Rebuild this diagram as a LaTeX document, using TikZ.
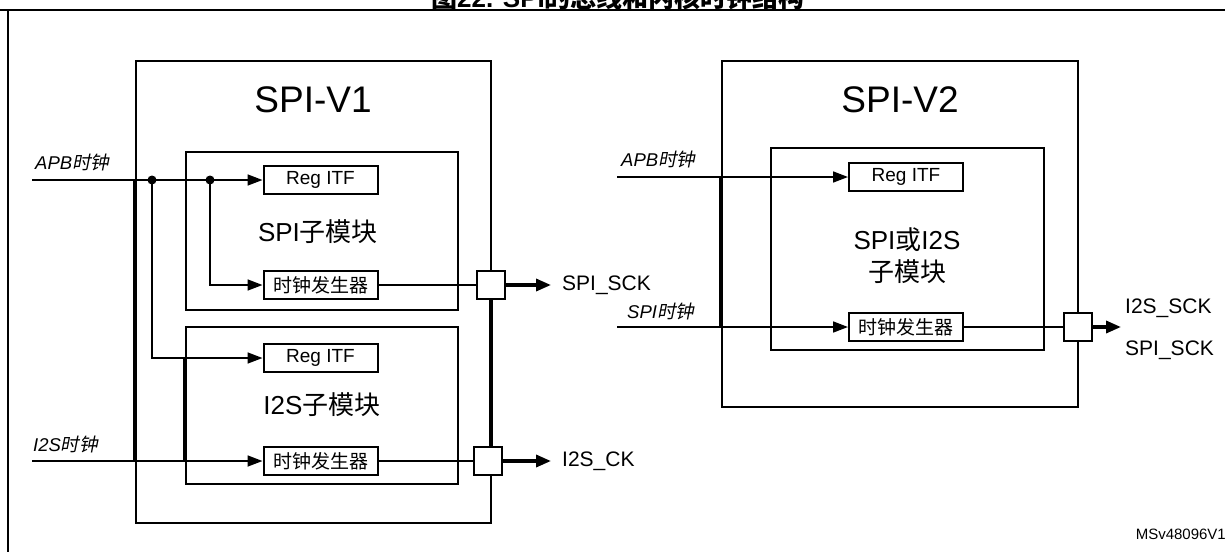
\documentclass[tikz,border=0pt]{standalone}
\usepackage{fontspec}
\setmainfont{Liberation Sans}
\newfontfamily\cjk{Noto Sans CJK SC}
\newfontfamily\cjkit[FakeSlant=0.2]{Noto Sans CJK SC}
\usetikzlibrary{arrows.meta}
\tikzset{
 box/.style={draw, line width=1.8pt, inner sep=0pt},
 blk/.style={draw, line width=2pt, fill=white, inner sep=0pt, minimum width=114pt, minimum height=28pt, font=\fontsize{19}{20}\selectfont},
 sq/.style={draw, line width=2pt, fill=white, minimum size=28pt, inner sep=0pt},
 wire/.style={line width=1.7pt},
 arr/.style={line width=1.7pt, -{Triangle[length=15pt,width=11pt]}},
 bus/.style={line width=3.4pt},
 outarr/.style={line width=3.4pt, -{Triangle[length=15pt,width=12pt]}},
 dot/.style={circle, fill=black, inner sep=0pt, minimum size=9pt},
 big/.style={font=\fontsize{37}{40}\selectfont, inner sep=0pt},
 mid/.style={font=\fontsize{26}{32}\selectfont, inner sep=0pt},
 sig/.style={font=\fontsize{21}{24}\selectfont, inner sep=0pt, anchor=west},
 lab/.style={font=\fontsize{18.5}{20}\selectfont\itshape, inner sep=0pt, anchor=base west},
}
\begin{document}
\begin{tikzpicture}[x=1pt,y=-1pt]
\useasboundingbox (0,0) rectangle (1225,552);
% frame and title
\draw[line width=2.4pt] (0,10) -- (1225,10);
\draw[line width=1.8pt] (8,10) -- (8,552);
\node[font=\fontsize{26}{26}\selectfont\bfseries, anchor=base, inner sep=0pt] (title) at (618,7) {{\cjk 图}22. SPI{\cjk 的总线和内核时钟结构}};
\node[font=\fontsize{15}{16}\selectfont, anchor=east, inner sep=0pt] (code) at (1226,534) {MSv48096V1};

% ---------------- SPI-V1 ----------------
\node[box, minimum width=355pt, minimum height=462pt] (v1) at (313.5,292) {};
\node[big] (t1) at (313,100) {SPI-V1};
\node[box, minimum width=272pt, minimum height=158pt] (spisub) at (322,231) {};
\node[box, minimum width=272pt, minimum height=157pt] (i2ssub) at (322,405.5) {};
\node[mid] (t2) at (318,232) {SPI{\cjk 子模块}};
\node[mid] (t3) at (322,405) {I2S{\cjk 子模块}};
\node[blk] (reg1) at (320.5,180) {Reg ITF};
\node[blk] (gen1) at (320.5,285) {\cjk 时钟发生器};
\node[blk] (reg2) at (320.5,358) {Reg ITF};
\node[blk] (gen2) at (320.5,461) {\cjk 时钟发生器};
\node[sq] (sq1) at (491,285) {};
\node[sq] (sq2) at (488,461) {};

\node[lab] (apbl) at (35,169) {APB{\cjkit 时钟}};
\node[lab] (i2sl) at (33,451) {I2S{\cjkit 时钟}};
\coordinate (apbin) at (32,180);
\coordinate (i2sin) at (32,461);
\coordinate (d1c) at (152,180);
\coordinate (d2c) at (210,180);

\draw[arr] (apbin) -- (reg1.west);
\draw[arr] (d2c) |- (gen1.west);
\draw[arr] (d1c) |- (reg2.west);
\draw[arr] (i2sin) -- (gen2.west);
\node[dot] (d1) at (d1c) {};
\node[dot] (d2) at (d2c) {};
\draw[wire] (gen1.east) -- (sq1.west);
\draw[wire] (gen2.east) -- (sq2.west);

\draw[bus] (sq1.south) -- (sq1.south |- sq2.north);
\draw[bus] (v1.west |- reg1) -- (v1.west |- gen2);
\draw[bus] (i2ssub.west |- reg2) -- (i2ssub.west |- gen2);

\coordinate (spitip) at (551,285);
\draw[outarr] (sq1.east) -- (spitip);
\node[sig] (spisck) at (562,285) {SPI\_SCK};
\coordinate (i2stip) at (551,461);
\draw[outarr] (sq2.east) -- (i2stip);
\node[sig] (i2sck) at (562,461) {I2S\_CK};

% ---------------- SPI-V2 ----------------
\node[box, minimum width=356pt, minimum height=346pt] (v2) at (900,234) {};
\node[big] (t4) at (900,100) {SPI-V2};
\node[box, minimum width=273pt, minimum height=202pt] (sub3) at (907.5,249) {};
\node[blk] (reg3) at (906,177) {Reg ITF};
\node[blk] (gen3) at (906,327) {\cjk 时钟发生器};
\node[mid, align=center] (t5) at (907,256) {SPI{\cjk 或}I2S\\{\cjk 子模块}};
\node[sq] (sq3) at (1078,327) {};

\node[lab] (apb2l) at (621,166) {APB{\cjkit 时钟}};
\node[lab] (spi2l) at (627,318) {SPI{\cjkit 时钟}};
\coordinate (apb2in) at (617,177);
\coordinate (spi2in) at (617,327);
\draw[arr] (apb2in) -- (reg3.west);
\draw[arr] (spi2in) -- (gen3.west);
\draw[wire] (gen3.east) -- (sq3.west);
\draw[bus] (v2.west |- reg3) -- (v2.west |- gen3);
\coordinate (tip3) at (1121,327);
\draw[outarr] (sq3.east) -- (tip3);
\node[sig] (i2ssck) at (1125,308) {I2S\_SCK};
\node[sig] (spisck2) at (1125,350) {SPI\_SCK};
\end{tikzpicture}
\end{document}
